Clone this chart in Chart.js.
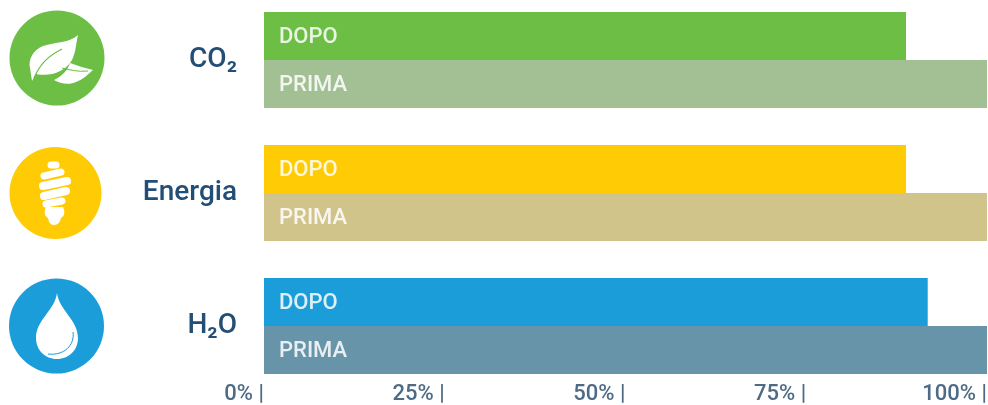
<!DOCTYPE html>
<html><head><meta charset="utf-8">
<script src="https://cdn.jsdelivr.net/npm/chart.js@4"></script>
<style>
html,body{margin:0;padding:0;background:#fff;overflow:hidden;width:988px;height:405px}
#wrap{position:absolute;left:0;top:-20px;width:988px;height:425px;filter:blur(.5px)}
svg{position:absolute;left:0;top:0;filter:blur(.5px)}
</style></head><body>
<div id="wrap"><canvas id="c"></canvas></div>
<svg width="988" height="405" viewBox="0 0 988 405">
  <circle cx="57" cy="58" r="47.5" fill="#6cbe45"/>
  <path fill="#fff" d="M78 35C70 43 55 42 43 46C33 50 28 60 30 68L32 81L36 74C50 77 65 72 72 60C76 52 76 43 78 35Z"/>
  <path fill="none" stroke="#6cbe45" stroke-width="1.2" d="M34 78C40 64 48 56 62 49"/>
  <path fill="#fff" d="M93 70C85 68 78 66 70 63C68 70 62 76 54 80C60 84 70 85 76 82C84 79 88 74 93 70Z"/>
  <path fill="none" stroke="#6cbe45" stroke-width="1" d="M62 68C70 70 78 72 88 71"/>
  <circle cx="55.5" cy="193" r="46" fill="#ffcb05"/>
  <g stroke="#fff" stroke-linecap="round" fill="none">
    <path stroke-width="7" d="M51 165L56 165"/>
    <path stroke-width="7" d="M44 176L61 172"/>
    <path stroke-width="8" d="M43 186L67 181"/>
    <path stroke-width="8" d="M44 196L66 191"/>
    <path stroke-width="7" d="M46 204L62 201"/>
  </g>
  <path fill="#fff" d="M46 207H63C65 211 65 216 61 218C60 222 58 225 54 225C50 225 49 222 48 218C44 216 44 211 46 207Z"/>
  <circle cx="56.5" cy="326" r="47.5" fill="#1b9dd9"/>
  <path fill="#fff" d="M57 293C55 310 36 320 36 338C36 350 45 359 57 359C69 359 78 350 78 338C78 320 59 310 57 293Z"/>
  <path fill="none" stroke="#1b9dd9" stroke-width="1" d="M73 332C75 345 64 356 48 354"/>
</svg>
<script>
const categories = ['CO₂', 'Energia', 'H₂O'];
const seriesNames = ['DOPO', 'PRIMA'];
const dopoValues = [88.8, 88.8, 91.8];
const primaValues = [100, 100, 100];
const tickLabels = ['0% |', '25% |', '50% |', '75% |', '100% |'];
const dopoColors = ['#6cbe45', '#ffcb05', '#1b9dd9'];
const primaColors = ['#a3bf94', '#d1c48a', '#6794a9'];

const barNames = {
  id: 'barNames',
  afterLayout(chart) {
    chart.scales.x.top -= 12;
  },
  afterDatasetsDraw(chart) {
    const ctx = chart.ctx;
    ctx.save();
    ctx.font = '500 22px Roboto';
    ctx.fillStyle = 'rgba(255,255,255,0.85)';
    ctx.textAlign = 'left';
    ctx.textBaseline = 'middle';
    chart.data.datasets.forEach((ds, i) => {
      chart.getDatasetMeta(i).data.forEach(bar => {
        ctx.fillText(ds.label, bar.base + 15, bar.y + 1 + i);
      });
    });
    ctx.restore();
  }
};

new Chart(document.getElementById('c'), {
  type: 'bar',
  plugins: [barNames],
  data: {
    labels: categories,
    datasets: [
      { label: seriesNames[0], data: dopoValues, backgroundColor: dopoColors },
      { label: seriesNames[1], data: primaValues, backgroundColor: primaColors }
    ]
  },
  options: {
    indexAxis: 'y',
    responsive: true,
    maintainAspectRatio: false,
    animation: false,
    categoryPercentage: 0.72,
    barPercentage: 1,
    layout: { padding: { top: 13.5, right: 1, bottom: 0, left: 0 } },
    plugins: { legend: { display: false }, tooltip: { enabled: false } },
    scales: {
      x: {
        min: 0, max: 100,
        grid: { display: false, drawTicks: false },
        border: { display: false },
        afterFit(s) { s.height = 12.5; s.paddingLeft = 0; s.paddingRight = 0; s.paddingTop = 0; s.paddingBottom = 0; },
        afterBuildTicks(s) { s.ticks = tickLabels.map((_, i) => ({ value: i * 25 })); },
        ticks: {
          autoSkip: false, maxRotation: 0, align: 'end', padding: 1,
          color: '#4d6b85',
          font: { family: 'Roboto', size: 22, weight: '500' },
          callback: (v, i) => tickLabels[i]
        }
      },
      y: {
        grid: { display: false, drawTicks: false },
        border: { display: false },
        afterFit(s) { s.width = 264; s.paddingTop = 0; s.paddingBottom = 0; s.paddingLeft = 0; s.paddingRight = 0; },
        ticks: {
          padding: 27,
          color: '#234e75',
          font: { family: 'Roboto', size: 28, weight: '500' }
        }
      }
    }
  }
});
</script>
</body></html>
